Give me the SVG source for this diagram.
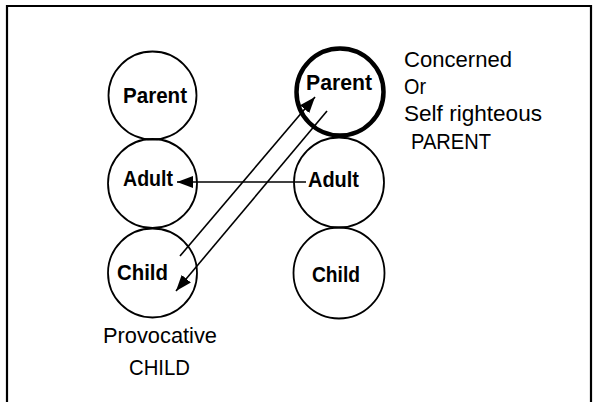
<svg xmlns="http://www.w3.org/2000/svg" width="598" height="402" viewBox="0 0 598 402">
<defs>
<style>
.c{fill:none;stroke:#000;stroke-width:1.8}
.ct{fill:none;stroke:#000;stroke-width:4.5}
.b{font-family:"Liberation Sans",Arial,sans-serif;font-weight:bold;font-size:22.5px;fill:#000}
.t{font-family:"Liberation Sans",Arial,sans-serif;font-size:22.5px;fill:#000}
.ln{stroke:#000;stroke-width:1.6;fill:none}
</style>
<marker id="ah" viewBox="0 0 16 12" refX="16" refY="6" markerWidth="16" markerHeight="12" markerUnits="userSpaceOnUse" orient="auto">
<path d="M0,0 L16,6 L0,12 Z" fill="#000"/>
</marker>
</defs>
<rect width="598" height="402" fill="#fff"/>
<path d="M7,402 V6 H591 V402" fill="none" stroke="#000" stroke-width="2.2"/>
<g id="left-parent"><circle class="c" cx="152.5" cy="95.5" r="44"/><text class="b" x="123" y="103" textLength="64" lengthAdjust="spacingAndGlyphs">Parent</text></g>
<g id="left-adult"><circle class="c" cx="152.5" cy="183.5" r="44.5"/><text class="b" x="123" y="186" textLength="50" lengthAdjust="spacingAndGlyphs">Adult</text></g>
<g id="left-child"><circle class="c" cx="152.5" cy="273" r="44.5"/><text class="b" x="117" y="280" textLength="51" lengthAdjust="spacingAndGlyphs">Child</text></g>
<g id="right-parent"><circle class="ct" cx="340" cy="92" r="43.5"/><text class="b" x="306" y="90" textLength="66" lengthAdjust="spacingAndGlyphs">Parent</text></g>
<g id="right-adult"><circle class="c" cx="339" cy="182.5" r="45"/><text class="b" x="308" y="187" textLength="51" lengthAdjust="spacingAndGlyphs">Adult</text></g>
<g id="right-child"><circle class="c" cx="339" cy="273" r="45.5"/><text class="b" x="312" y="282" textLength="48" lengthAdjust="spacingAndGlyphs">Child</text></g>
<g id="connectors">
<line class="ln" x1="306" y1="182" x2="177" y2="182" marker-end="url(#ah)"/>
<line class="ln" x1="180" y1="256" x2="315" y2="97" marker-end="url(#ah)"/>
<line class="ln" x1="327" y1="111" x2="176" y2="291" marker-end="url(#ah)"/>
</g>
<g id="annotations">
<text class="t" x="404" y="67" textLength="108" lengthAdjust="spacingAndGlyphs">Concerned</text>
<text class="t" x="404" y="94" textLength="22" lengthAdjust="spacingAndGlyphs">Or</text>
<text class="t" x="404" y="121" textLength="138" lengthAdjust="spacingAndGlyphs">Self righteous</text>
<text class="t" x="411" y="149" textLength="80" lengthAdjust="spacingAndGlyphs">PARENT</text>
<text class="t" x="103" y="343" textLength="114" lengthAdjust="spacingAndGlyphs">Provocative</text>
<text class="t" x="129" y="375" textLength="61" lengthAdjust="spacingAndGlyphs">CHILD</text>
</g>
</svg>
